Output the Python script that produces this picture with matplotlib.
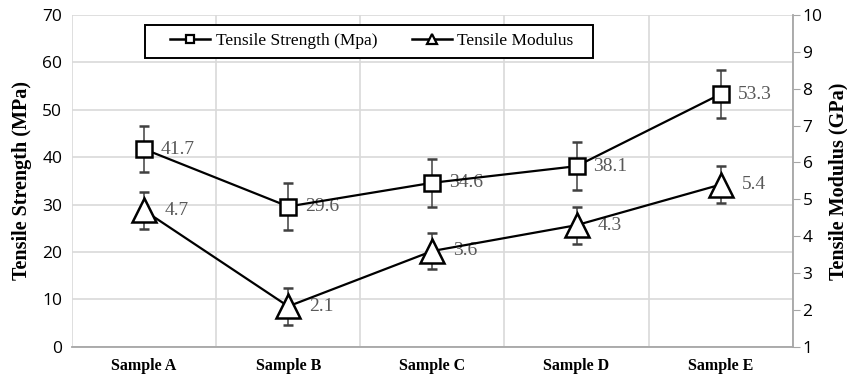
import matplotlib
matplotlib.use("Agg")
import matplotlib.pyplot as plt
from matplotlib.ticker import MultipleLocator, FixedLocator
from matplotlib.lines import Line2D
from matplotlib.patches import Rectangle
import numpy as np

categories = ["Sample A", "Sample B", "Sample C", "Sample D", "Sample E"]
strength = [41.7, 29.6, 34.6, 38.1, 53.3]
strength_err = [4.9, 5.0, 5.0, 5.0, 5.0]
modulus = [4.7, 2.1, 3.6, 4.3, 5.4]
modulus_err = [0.5, 0.5, 0.5, 0.5, 0.5]
series_names = ["Tensile Strength (Mpa)", "Tensile Modulus"]

serif = "Liberation Serif"
sans = "Open Sans"
grid_c = "#d9d9d9"

fig = plt.figure(figsize=(8.47, 3.8), dpi=100)
ax = fig.add_axes([0.085, 0.087, 0.851, 0.874])
ax2 = ax.twinx()

x = np.arange(len(categories))

ax.errorbar(x, strength, yerr=strength_err, color="black", lw=1.6,
            marker="s", ms=12, mfc="white", mec="black", mew=1.8,
            ecolor="#404040", elinewidth=1.1, capsize=3.3, capthick=1.1,
            zorder=5)
ax2.errorbar(x, modulus, yerr=modulus_err, color="black", lw=1.6,
             marker="^", ms=17, mfc="white", mec="black", mew=1.8,
             ecolor="#404040", elinewidth=1.1, capsize=3.3, capthick=1.1,
             zorder=5)

for xi, v in zip(x, strength):
    ax.annotate(f"{v:.1f}", (xi, v), xytext=(12, 0), textcoords="offset points",
                va="center", ha="left", fontsize=14, color="#595959", family=serif)
for xi, v in zip(x, modulus):
    ax2.annotate(f"{v:.1f}", (xi, v), xytext=(15, 0), textcoords="offset points",
                 va="center", ha="left", fontsize=14, color="#595959", family=serif)

ax.set_xlim(-0.5, len(categories) - 0.5)
ax.set_ylim(0, 70)
ax2.set_ylim(1, 10)
ax.yaxis.set_major_locator(MultipleLocator(10))
ax2.yaxis.set_major_locator(MultipleLocator(1))

ax.set_xticks(x)
ax.set_xticklabels(categories, family=serif, fontsize=11.5, fontweight="bold")
ax.xaxis.set_minor_locator(FixedLocator(np.arange(-0.5, len(categories), 1.0)))
ax.tick_params(axis="x", which="both", length=0, pad=8)
ax.tick_params(axis="y", length=0, labelsize=12.5, pad=7)
ax2.tick_params(axis="y", length=5, color="#a6a6a6", labelsize=12.5, pad=2)
for lab in ax.get_yticklabels() + ax2.get_yticklabels():
    lab.set_family(sans)

ax.grid(axis="y", which="major", color=grid_c, lw=1.2)
ax.grid(axis="x", which="minor", color=grid_c, lw=1.2)
ax.set_axisbelow(True)

for a in (ax, ax2):
    for s in a.spines.values():
        s.set_visible(False)
ax.spines["bottom"].set_visible(True)
ax.spines["bottom"].set_color("#a6a6a6")
ax.spines["bottom"].set_linewidth(1.3)
ax2.spines["right"].set_visible(True)
ax2.spines["right"].set_color("#a6a6a6")
ax2.spines["right"].set_linewidth(1.3)

ax.set_ylabel("Tensile Strength (MPa)", family=serif, fontweight="bold", fontsize=14.5)
ax2.set_ylabel("Tensile Modulus (GPa)", family=serif, fontweight="bold", fontsize=14.5)
ax.yaxis.set_label_coords(-0.056, 0.5)
ax2.yaxis.set_label_coords(1.049, 0.5)

# legend
h1 = Line2D([], [], color="black", lw=1.8, marker="s", ms=6, mfc="white", mec="black", mew=1.6)
h2 = Line2D([], [], color="black", lw=1.8, marker="^", ms=7, mfc="white", mec="black", mew=1.6)
frame = Rectangle((0.101, 0.870), 0.6215, 0.100, transform=ax.transAxes,
                  facecolor="white", edgecolor="black", lw=1.4, zorder=9)
ax.add_patch(frame)
leg = ax.legend(handles=[h1, h2], labels=series_names,
                loc="center", bbox_to_anchor=(0.416, 0.92), ncol=2,
                prop={"family": serif, "size": 12.5}, frameon=False,
                handlelength=2.3, handletextpad=0.3, columnspacing=2.0,
                borderpad=0.2)
leg.set_zorder(10)

fig.savefig("out.png", dpi=100)
